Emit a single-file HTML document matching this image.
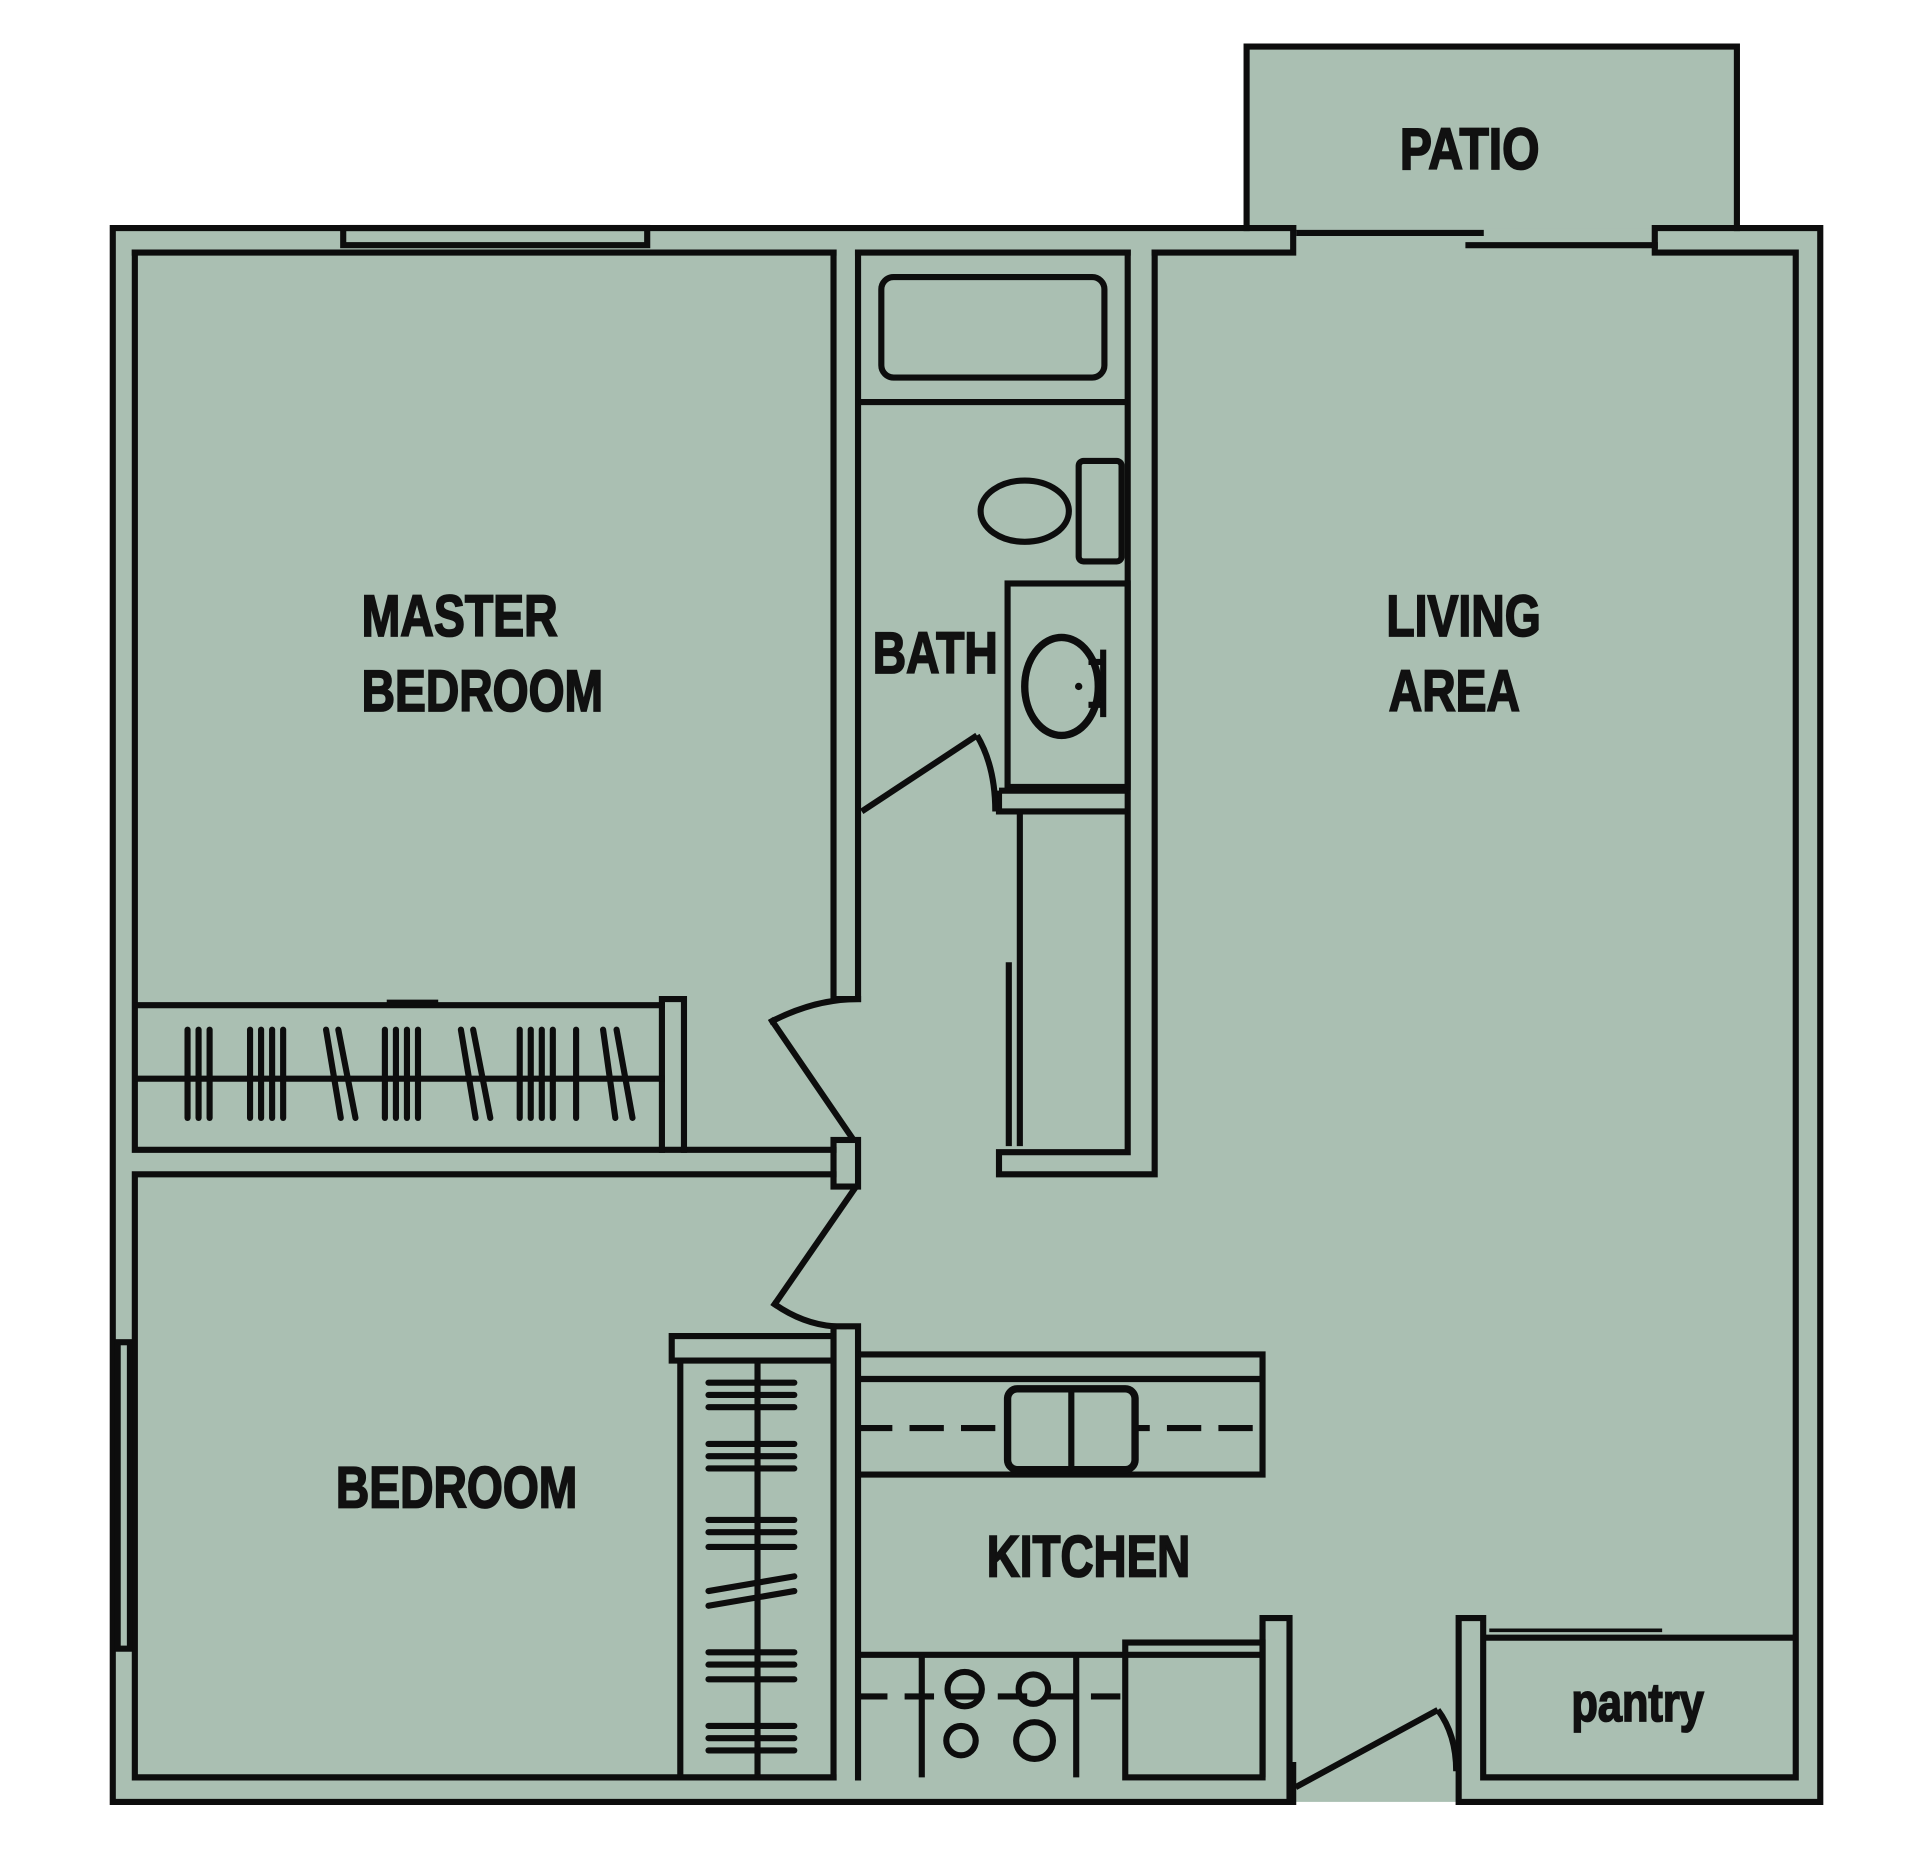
<!DOCTYPE html>
<html><head><style>html,body{margin:0;padding:0;background:#fff}svg{display:block}</style></head>
<body>
<svg width="1922" height="1873" viewBox="0 0 1568 1528" xmlns="http://www.w3.org/2000/svg">
<rect x="1017" y="38" width="400" height="150" fill="#aabfb2"/>
<rect x="92" y="186" width="1393" height="1284" fill="#aabfb2"/>
<g fill="none" stroke="#0d0d0d" stroke-width="5" stroke-linejoin="miter" stroke-linecap="square">
<polyline points="1017,186 1017,38 1417,38 1417,186"/>
<line x1="1060" y1="190" x2="1208" y2="190"/>
<line x1="1198" y1="200" x2="1350" y2="200"/>
<polyline points="1055,186 92,186 92,1470 1055,1470 1055,1440"/>
<polyline points="1055,186 1055,206 942,206"/>
<polyline points="1350,186 1485,186 1485,1470 1190,1470 1190,1320 1210,1320 1210,1450 1465,1450 1465,206 1350,206 1350,186"/>
<line x1="110" y1="206" x2="680" y2="206"/>
<line x1="700" y1="206" x2="920" y2="206"/>
<rect x="280" y="186" width="248" height="14"/>
<polyline points="110,206 110,938 680,938"/>
<polyline points="680,958 110,958 110,1450 680,1450"/>
<rect x="96" y="1095" width="10" height="250"/>
<polyline points="680,206 680,815 700,815 700,206"/>
<rect x="680" y="930" width="20" height="38"/>
<polyline points="920,206 920,940 815,940 815,958 942,958 942,206"/>
<polyline points="680,1450 680,1082 700,1082 700,1450"/>
<line x1="695" y1="928" x2="630" y2="833"/>
<path d="M630,833 Q665,815 700,815"/>
<line x1="697" y1="970" x2="632" y2="1064"/>
<path d="M632,1064 Q655,1080 680,1082"/>
<polyline points="112,820 540,820 540,815 558,815 558,938"/>
<line x1="540" y1="820" x2="540" y2="938"/>
<line x1="112" y1="880" x2="540" y2="880"/>
<line x1="318" y1="818" x2="355" y2="818"/>
</g>
<g stroke="#0d0d0d" stroke-width="5" stroke-linecap="round">
<line x1="153" y1="840" x2="153" y2="912"/><line x1="162" y1="840" x2="162" y2="912"/><line x1="171" y1="840" x2="171" y2="912"/>
<line x1="204" y1="840" x2="204" y2="912"/><line x1="213" y1="840" x2="213" y2="912"/><line x1="222" y1="840" x2="222" y2="912"/><line x1="231" y1="840" x2="231" y2="912"/>
<line x1="266" y1="840" x2="278" y2="912"/><line x1="276" y1="840" x2="290" y2="912"/>
<line x1="314" y1="840" x2="314" y2="912"/><line x1="323" y1="840" x2="323" y2="912"/><line x1="332" y1="840" x2="332" y2="912"/><line x1="341" y1="840" x2="341" y2="912"/>
<line x1="376" y1="840" x2="388" y2="912"/><line x1="386" y1="840" x2="400" y2="912"/>
<line x1="424" y1="840" x2="424" y2="912"/><line x1="433" y1="840" x2="433" y2="912"/><line x1="442" y1="840" x2="442" y2="912"/><line x1="451" y1="840" x2="451" y2="912"/>
<line x1="470" y1="840" x2="470" y2="912"/>
<line x1="492" y1="840" x2="502" y2="912"/><line x1="503" y1="840" x2="516" y2="912"/>
<line x1="578" y1="1128" x2="648" y2="1128"/><line x1="578" y1="1138" x2="648" y2="1138"/><line x1="578" y1="1148" x2="648" y2="1148"/>
<line x1="578" y1="1178" x2="648" y2="1178"/><line x1="578" y1="1188" x2="648" y2="1188"/><line x1="578" y1="1198" x2="648" y2="1198"/>
<line x1="578" y1="1240" x2="648" y2="1240"/><line x1="578" y1="1250" x2="648" y2="1250"/><line x1="578" y1="1262" x2="648" y2="1262"/>
<line x1="578" y1="1298" x2="648" y2="1286"/><line x1="578" y1="1310" x2="648" y2="1298"/>
<line x1="578" y1="1348" x2="648" y2="1348"/><line x1="578" y1="1358" x2="648" y2="1358"/><line x1="578" y1="1370" x2="648" y2="1370"/>
<line x1="578" y1="1408" x2="648" y2="1408"/><line x1="578" y1="1418" x2="648" y2="1418"/><line x1="578" y1="1428" x2="648" y2="1428"/>
</g>
<g fill="none" stroke="#0d0d0d" stroke-width="5">
<polyline points="680,1090 548,1090 548,1110 680,1110"/>
<line x1="555" y1="1110" x2="555" y2="1450"/>
<line x1="618" y1="1110" x2="618" y2="1450"/>
<polyline points="700,1105 1030,1105 1030,1203 700,1203"/>
<line x1="700" y1="1125" x2="1030" y2="1125"/>
<line x1="700" y1="1165" x2="1030" y2="1165" stroke-dasharray="28,14"/>
<rect x="822" y="1133" width="104" height="66" rx="8" fill="#aabfb2" stroke-width="6"/>
<line x1="874" y1="1136" x2="874" y2="1196"/>
<polyline points="1030,1450 1030,1320 1052,1320 1052,1470"/>
<line x1="700" y1="1350" x2="1030" y2="1350"/>
<line x1="752" y1="1350" x2="752" y2="1450"/>
<line x1="878" y1="1350" x2="878" y2="1450"/>
<rect x="918" y="1340" width="112" height="110"/>
<line x1="700" y1="1384" x2="918" y2="1384" stroke-dasharray="24,14"/>
<circle cx="787" cy="1378" r="14"/><circle cx="843" cy="1378" r="12"/>
<circle cx="784" cy="1420" r="12"/><circle cx="844" cy="1420" r="15"/>
<line x1="1057" y1="1458" x2="1173" y2="1395"/>
<path d="M1173,1395 Q1188,1415 1188,1445"/>
<line x1="1212" y1="1336" x2="1465" y2="1336"/>
<line x1="1215" y1="1330" x2="1356" y2="1330" stroke-width="3"/>
<rect x="719" y="226" width="182" height="82" rx="10"/>
<line x1="700" y1="328" x2="920" y2="328"/>
<ellipse cx="836" cy="417" rx="36" ry="25"/>
<rect x="880" y="376" width="35" height="82" rx="4"/>
<rect x="822" y="476" width="98" height="166"/>
<ellipse cx="866" cy="560" rx="30" ry="40" stroke-width="6"/>
<line x1="815" y1="645" x2="920" y2="645"/>
<polyline points="815,645 815,662 920,662"/>
<line x1="832" y1="662" x2="832" y2="935"/>
<line x1="823" y1="785" x2="823" y2="935"/>
<line x1="703" y1="662" x2="797" y2="600"/>
<path d="M797,600 Q812,625 812,662"/>
<line x1="888" y1="540" x2="902" y2="540"/><line x1="888" y1="575" x2="902" y2="575"/><line x1="900" y1="530" x2="900" y2="585"/>
</g>
<circle cx="880" cy="560" r="3" fill="#0d0d0d"/>
<g font-family="'Liberation Sans',sans-serif" font-weight="bold" font-size="48" fill="#111" stroke="#111" stroke-width="1.5">
<text x="1142" y="138" textLength="114" lengthAdjust="spacingAndGlyphs">PATIO</text>
<text x="295" y="519" textLength="160" lengthAdjust="spacingAndGlyphs">MASTER</text>
<text x="295" y="580" textLength="197" lengthAdjust="spacingAndGlyphs">BEDROOM</text>
<text x="712" y="549" textLength="102" lengthAdjust="spacingAndGlyphs">BATH</text>
<text x="1131" y="519" textLength="126" lengthAdjust="spacingAndGlyphs">LIVING</text>
<text x="1133" y="580" textLength="107" lengthAdjust="spacingAndGlyphs">AREA</text>
<text x="274" y="1230" textLength="197" lengthAdjust="spacingAndGlyphs">BEDROOM</text>
<text x="805" y="1286" textLength="166" lengthAdjust="spacingAndGlyphs">KITCHEN</text>
<text x="1282" y="1404" font-size="44" textLength="108" lengthAdjust="spacingAndGlyphs">pantry</text>
</g>
</svg>
</body></html>
